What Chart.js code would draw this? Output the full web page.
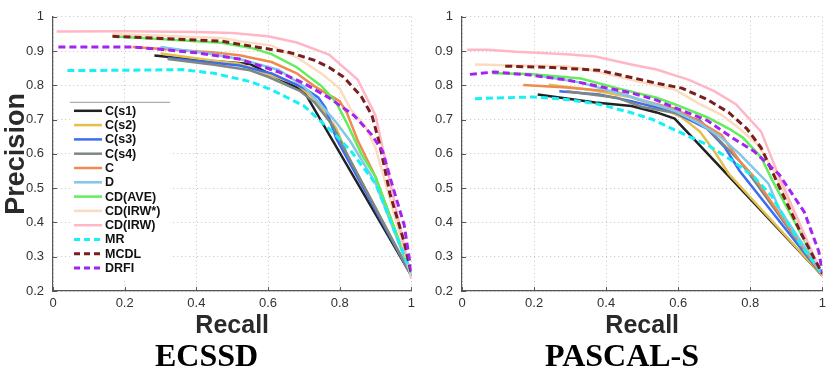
<!DOCTYPE html>
<html>
<head>
<meta charset="utf-8">
<script src="https://cdn.jsdelivr.net/npm/chart.js@4.4.0/dist/chart.umd.min.js"></script>
<style>
body { margin: 0; background: #fff; width: 831px; height: 376px; overflow: hidden; position: relative; }
canvas { position: absolute; top: 0; }
</style>
</head>
<body>
<canvas id="ecssd-chart" width="420" height="376" style="left:0"></canvas>
<canvas id="pascal-chart" width="411" height="376" style="left:420px"></canvas>
<script>
// method names, same order in both plots
const methods = ['C(s1)', 'C(s2)', 'C(s3)', 'C(s4)', 'C', 'D', 'CD(AVE)', 'CD(IRW*)', 'CD(IRW)', 'MR', 'MCDL', 'DRFI'];
const colors = ['#222222', '#e3c04c', '#3d6cf2', '#7d8786', '#ef8a50', '#82c6ea', '#62ee5a', '#fcdcc0', '#ffb7c5', '#14f2f5', '#7a1f1f', '#a323f0'];
const dashed = [false, false, false, false, false, false, false, false, false, true, true, true];

const xTicks = [0, 0.2, 0.4, 0.6, 0.8, 1];
const yTicks = [0.2, 0.3, 0.4, 0.5, 0.6, 0.7, 0.8, 0.9, 1];

// ECSSD curves, [recall, precision]
const ecssd_s1 = [[0.283,0.887],[0.4,0.875],[0.55,0.862],[0.7,0.783],[1,0.245]];
const ecssd_s2 = [[0.3,0.893],[0.45,0.872],[0.52,0.863],[0.68,0.803],[0.73,0.76],[0.79,0.675],[0.82,0.6],[1,0.245]];
const ecssd_s3 = [[0.32,0.88],[0.52,0.858],[0.61,0.835],[0.7,0.792],[0.74,0.765],[0.76,0.735],[0.79,0.646],[1,0.245]];
const ecssd_s4 = [[0.32,0.877],[0.45,0.86],[0.55,0.844],[0.6,0.825],[0.69,0.783],[0.73,0.75],[0.78,0.684],[0.82,0.6],[1,0.245]];
const ecssd_c = [[0.222,0.912],[0.45,0.896],[0.52,0.888],[0.61,0.868],[0.68,0.835],[0.73,0.797],[0.8,0.754],[0.82,0.72],[0.85,0.64],[0.9,0.533],[1,0.245]];
const ecssd_d = [[0.3,0.912],[0.45,0.89],[0.52,0.877],[0.63,0.845],[0.7,0.797],[0.75,0.74],[0.79,0.692],[0.83,0.636],[0.88,0.55],[0.9,0.515],[1,0.245]];
const ecssd_ave = [[0.166,0.943],[0.47,0.924],[0.55,0.91],[0.61,0.891],[0.68,0.853],[0.75,0.797],[0.79,0.75],[0.82,0.69],[0.86,0.6],[0.9,0.533],[1,0.25]];
const ecssd_irwStar = [[0.166,0.95],[0.47,0.938],[0.52,0.929],[0.61,0.916],[0.68,0.882],[0.75,0.834],[0.8,0.791],[0.83,0.731],[0.87,0.683],[0.9,0.618],[1,0.245]];
const ecssd_irw = [[0.01,0.957],[0.2,0.958],[0.4,0.956],[0.5,0.953],[0.6,0.943],[0.68,0.925],[0.77,0.89],[0.85,0.817],[0.9,0.712],[1,0.235]];
const ecssd_mr = [[0.04,0.843],[0.2,0.844],[0.36,0.846],[0.45,0.835],[0.55,0.811],[0.61,0.787],[0.7,0.74],[0.78,0.664],[0.83,0.61],[0.9,0.513],[1,0.253]];
const ecssd_mcdl = [[0.166,0.943],[0.3,0.937],[0.47,0.929],[0.52,0.92],[0.66,0.896],[0.73,0.873],[0.77,0.853],[0.81,0.825],[0.86,0.768],[0.89,0.712],[0.91,0.635],[0.94,0.485],[0.98,0.343],[1,0.25]];
const ecssd_drfi = [[0.015,0.912],[0.22,0.912],[0.3,0.905],[0.4,0.895],[0.52,0.877],[0.63,0.839],[0.7,0.806],[0.77,0.764],[0.84,0.712],[0.89,0.655],[0.92,0.607],[0.94,0.533],[0.98,0.392],[1,0.255]];

// PASCAL-S curves, [recall, precision]
const pascal_s1 = [[0.21,0.773],[0.37,0.75],[0.47,0.74],[0.54,0.721],[0.59,0.703],[1,0.245]];
const pascal_s2 = [[0.24,0.802],[0.35,0.788],[0.47,0.765],[0.55,0.735],[0.61,0.707],[0.66,0.665],[0.7,0.608],[0.74,0.542],[1,0.245]];
const pascal_s3 = [[0.27,0.783],[0.38,0.773],[0.47,0.754],[0.54,0.735],[0.59,0.721],[0.68,0.674],[0.73,0.618],[0.77,0.551],[1,0.245]];
const pascal_s4 = [[0.29,0.783],[0.43,0.764],[0.5,0.737],[0.59,0.72],[0.66,0.698],[0.7,0.655],[0.77,0.58],[0.81,0.523],[1,0.245]];
const pascal_c = [[0.17,0.801],[0.29,0.794],[0.43,0.781],[0.49,0.759],[0.59,0.732],[0.66,0.693],[0.72,0.655],[0.77,0.58],[0.81,0.533],[1,0.245]];
const pascal_d = [[0.2,0.83],[0.33,0.808],[0.49,0.76],[0.59,0.726],[0.66,0.688],[0.72,0.647],[0.77,0.6],[0.85,0.514],[0.88,0.44],[1,0.25]];
const pascal_ave = [[0.086,0.835],[0.19,0.833],[0.33,0.82],[0.43,0.792],[0.54,0.764],[0.59,0.745],[0.68,0.707],[0.74,0.674],[0.78,0.647],[0.83,0.59],[0.86,0.525],[1,0.25]];
const pascal_irwStar = [[0.036,0.861],[0.15,0.858],[0.29,0.856],[0.35,0.846],[0.49,0.811],[0.59,0.788],[0.66,0.745],[0.72,0.714],[0.77,0.674],[0.82,0.627],[0.86,0.561],[1,0.245]];
const pascal_irw = [[0.014,0.904],[0.07,0.904],[0.15,0.898],[0.29,0.891],[0.37,0.884],[0.47,0.861],[0.54,0.846],[0.63,0.816],[0.7,0.783],[0.76,0.745],[0.83,0.665],[0.88,0.533],[1,0.245]];
const pascal_mr = [[0.036,0.761],[0.12,0.764],[0.2,0.766],[0.29,0.759],[0.38,0.745],[0.47,0.72],[0.53,0.7],[0.59,0.67],[0.68,0.627],[0.75,0.58],[0.81,0.533],[0.86,0.476],[0.94,0.335],[1,0.25]];
const pascal_mcdl = [[0.12,0.856],[0.25,0.852],[0.38,0.844],[0.47,0.823],[0.54,0.806],[0.61,0.792],[0.68,0.759],[0.74,0.721],[0.79,0.674],[0.83,0.618],[0.86,0.55],[0.94,0.37],[1,0.25]];
const pascal_drfi = [[0.022,0.832],[0.09,0.839],[0.19,0.83],[0.29,0.816],[0.38,0.797],[0.47,0.778],[0.54,0.757],[0.59,0.735],[0.68,0.698],[0.75,0.647],[0.81,0.608],[0.88,0.54],[0.95,0.43],[0.99,0.315],[1,0.255]];

const ecssdCurves = [ecssd_s1, ecssd_s2, ecssd_s3, ecssd_s4, ecssd_c, ecssd_d, ecssd_ave, ecssd_irwStar, ecssd_irw, ecssd_mr, ecssd_mcdl, ecssd_drfi];
const pascalCurves = [pascal_s1, pascal_s2, pascal_s3, pascal_s4, pascal_c, pascal_d, pascal_ave, pascal_irwStar, pascal_irw, pascal_mr, pascal_mcdl, pascal_drfi];

const tickFont = { family: "'Liberation Sans Narrow', 'Liberation Sans', Arial, sans-serif", size: 13 };
const boldFont = "'Liberation Sans Narrow', 'Liberation Sans', Arial, sans-serif";

function makeDatasets(curves) {
    return curves.map((pts, i) => ({
        label: methods[i],
        data: pts.map(p => ({ x: p[0], y: p[1] })),
        borderColor: colors[i],
        backgroundColor: colors[i],
        borderWidth: dashed[i] ? 3 : 2.5,
        borderDash: dashed[i] ? [7, 4] : [],
        pointRadius: 0,
        tension: 0,
        fill: false,
        order: curves.length - i   // later methods on top, like the original plot
    }));
}

// legend box drawn inside the plot area
const innerLegend = {
    id: 'innerLegend',
    afterDraw(chart, args, opts) {
        if (!opts.show) return;
        const ctx = chart.ctx;
        const a = chart.chartArea;
        const left = a.left + 17, top = a.top + 85, w = 100, rowH = 14.3;
        const n = chart.data.datasets.length;
        ctx.save();
        ctx.fillStyle = '#fff';
        ctx.fillRect(left, top, w, n * rowH + 6);
        ctx.strokeStyle = '#999';
        ctx.lineWidth = 1;
        ctx.beginPath();
        ctx.moveTo(left, top + 0.5);
        ctx.lineTo(left + w, top + 0.5);
        ctx.stroke();
        ctx.font = "bold 12.5px 'Liberation Sans', Arial, sans-serif";
        ctx.textBaseline = 'middle';
        chart.data.datasets.forEach((ds, i) => {
            const y = top + 9 + i * rowH;
            ctx.strokeStyle = ds.borderColor;
            ctx.lineWidth = ds.borderWidth;
            ctx.setLineDash(ds.borderDash.length ? [6, 4] : []);
            ctx.beginPath();
            ctx.moveTo(left + 4, y);
            ctx.lineTo(left + 32, y);
            ctx.stroke();
            ctx.setLineDash([]);
            ctx.fillStyle = '#111';
            ctx.fillText(ds.label, left + 35, y + 0.5);
        });
        ctx.restore();
    }
};

// small tick marks pointing into the plot, as in the original figure
const inwardTicks = {
    id: 'inwardTicks',
    afterDraw(chart) {
        const ctx = chart.ctx;
        const a = chart.chartArea;
        const xs = chart.scales.x, ys = chart.scales.y;
        ctx.save();
        ctx.strokeStyle = '#555';
        ctx.lineWidth = 1;
        ctx.beginPath();
        xs.ticks.forEach(t => {
            const px = Math.round(xs.getPixelForValue(t.value)) + 0.5;
            ctx.moveTo(px, a.bottom);
            ctx.lineTo(px, a.bottom - 4);
        });
        ys.ticks.forEach(t => {
            const py = Math.round(ys.getPixelForValue(t.value)) + 0.5;
            ctx.moveTo(a.left, py);
            ctx.lineTo(a.left + 4, py);
        });
        ctx.stroke();
        ctx.restore();
    }
};

function makeChart(id, curves, dataset, yWidth, showYTitle, showLegend) {
    return new Chart(document.getElementById(id), {
        type: 'line',
        data: { datasets: makeDatasets(curves) },
        plugins: [inwardTicks, innerLegend],
        options: {
            responsive: false,
            animation: false,
            devicePixelRatio: 1,
            layout: { padding: { left: 0, right: 7, top: 8, bottom: 0 } },
            plugins: {
                legend: { display: false },
                tooltip: { enabled: false },
                innerLegend: { show: showLegend },
                title: {
                    display: true,
                    position: 'bottom',
                    text: dataset,
                    color: '#000',
                    font: { family: "'Liberation Serif', 'Times New Roman', serif", size: 32, weight: 'bold', lineHeight: 1 },
                    padding: { top: 0, bottom: 2 }
                }
            },
            scales: {
                x: {
                    type: 'linear',
                    min: 0,
                    max: 1,
                    afterBuildTicks: s => { s.ticks = xTicks.map(v => ({ value: v })); },
                    afterFit: s => { s.height = 51; },
                    ticks: {
                        font: tickFont,
                        color: '#333',
                        padding: 5,
                        maxRotation: 0,
                        callback: v => String(+v.toFixed(1))
                    },
                    grid: { color: '#c4c4c4', drawTicks: false },
                    border: { display: true, color: '#555', width: 1.2, dash: [1, 3] },
                    title: {
                        display: true,
                        text: 'Recall',
                        color: '#2a2a2a',
                        font: { family: boldFont, size: 25, weight: 'bold', lineHeight: 1 },
                        padding: { top: 0, bottom: 3 }
                    }
                },
                y: {
                    type: 'linear',
                    min: 0.2,
                    max: 1,
                    afterBuildTicks: s => { s.ticks = yTicks.map(v => ({ value: v })); },
                    afterFit: s => { s.width = yWidth; },
                    ticks: {
                        font: tickFont,
                        color: '#333',
                        padding: 9,
                        callback: v => String(+v.toFixed(1))
                    },
                    grid: { color: '#c4c4c4', drawTicks: false },
                    border: { display: true, color: '#555', width: 1.2, dash: [1, 3] },
                    title: {
                        display: showYTitle,
                        text: 'Precision',
                        color: '#2a2a2a',
                        font: { family: "'Liberation Sans', Arial, sans-serif", size: 27, weight: 'bold', lineHeight: 1.2 },
                        padding: 0
                    }
                }
            }
        }
    });
}

const ecssdChart = makeChart('ecssd-chart', ecssdCurves, 'ECSSD', 53, true, true);
const pascalChart = makeChart('pascal-chart', pascalCurves, 'PASCAL-S', 42, false, false);
</script>
</body>
</html>
